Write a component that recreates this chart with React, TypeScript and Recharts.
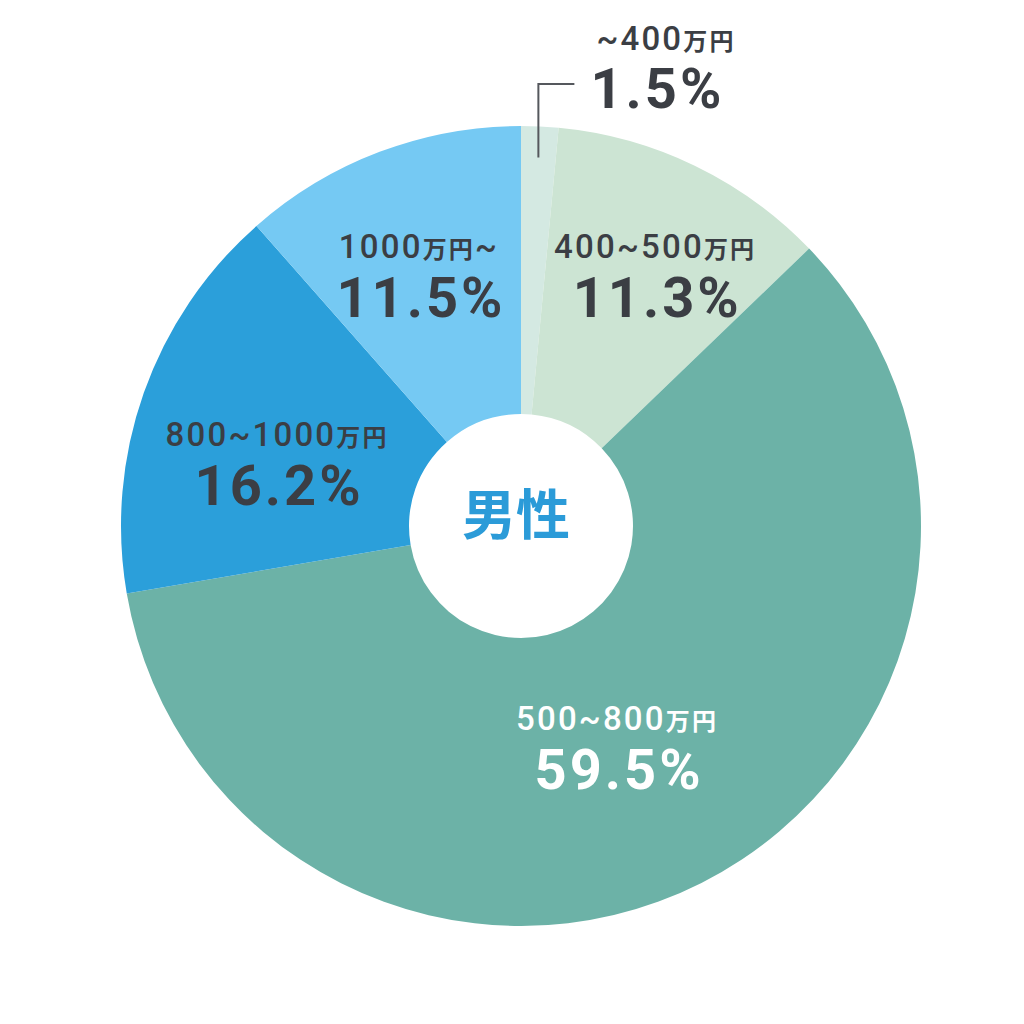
import { PieChart, Pie, Cell, Label } from "recharts";

// annual income bands (men)
const bands = ["~400万円", "400~500万円", "500~800万円", "800~1000万円", "1000万円~"];
const shares = [1.5, 11.3, 59.5, 16.2, 11.5];
const centerTitle = "男性";

const sliceColors = ["#d4e9e2", "#cce4d3", "#6cb2a7", "#2b9fda", "#75c9f3"];
const labelColors = ["#3b3e44", "#3b3e44", "#ffffff", "#3b3e44", "#3b3e44"];

// label placement: radius from centre and angle nudge (deg) from the slice middle
const labelRadius = [0, 273, 253, 249, 259];
const labelTurn = [0, -3.7, -4.5, 7.8, 2.5];

const FONT = "Roboto, 'Noto Sans CJK JP', sans-serif";
const RAD = Math.PI / 180;

const data = bands.map((band, i) => ({ band, share: shares[i] }));

function BandText({ label, x, y, fill, anchor }: any) {
  const parts = label.split(/(万円)/).filter(Boolean);
  return (
    <text x={x} y={y} textAnchor={anchor} fill={fill} fontFamily={FONT} letterSpacing={2.2}>
      {parts.map((p: string, i: number) => (
        <tspan key={i} fontSize={p === "万円" ? 24 : 33} fontWeight={p === "万円" ? 700 : 500}>
          {p}
        </tspan>
      ))}
    </text>
  );
}

function ShareText({ value, x, y, fill, anchor }: any) {
  return (
    <text x={x} y={y} textAnchor={anchor} fill={fill} fontFamily={FONT} fontWeight={700} fontSize={56} letterSpacing={3}>
      {`${value}%`}
    </text>
  );
}

const renderLabel = (props: any) => {
  const { cx, cy, midAngle, index, outerRadius } = props;
  const band = bands[index];
  const share = shares[index];
  if (index === 0) {
    // small slice: leader line out to the top
    const r0 = outerRadius - 31;
    const x0 = cx + r0 * Math.cos(-midAngle * RAD);
    const y0 = cy + r0 * Math.sin(-midAngle * RAD);
    const yTop = cy - 442;
    const xEnd = x0 + 36;
    return (
      <g key="lbl0">
        <polyline points={`${x0},${y0} ${x0},${yTop} ${xEnd},${yTop}`} fill="none" stroke="#55585d" strokeWidth={2} />
        <BandText label={band} x={xEnd + 22} y={yTop - 34} fill={labelColors[0]} anchor="start" />
        <ShareText value={share} x={xEnd + 16} y={yTop + 24} fill={labelColors[0]} anchor="start" />
      </g>
    );
  }
  const a = (midAngle + labelTurn[index]) * RAD;
  const r = labelRadius[index];
  const x = cx + r * Math.cos(-a);
  const y = cy + r * Math.sin(-a);
  return (
    <g key={`lbl${index}`}>
      <BandText label={band} x={x} y={y - 30} fill={labelColors[index]} anchor="middle" />
      <ShareText value={share} x={x + 2} y={y + 29} fill={labelColors[index]} anchor="middle" />
    </g>
  );
};

export default function App() {
  return (
    <div style={{ width: 1016, height: 1016, background: "#ffffff" }}>
      <PieChart width={1016} height={1016}>
        <Pie
          data={data}
          dataKey="share"
          nameKey="band"
          cx={508}
          cy={513}
          innerRadius={112}
          outerRadius={400}
          startAngle={90}
          endAngle={-270}
          stroke="none"
          label={renderLabel}
          labelLine={false}
          isAnimationActive={false}
        >
          {data.map((d, i) => (
            <Cell key={d.band} fill={sliceColors[i]} />
          ))}
          <Label
            value={centerTitle}
            position="center"
            fill="#2b9bd8"
            fontSize={54}
            fontWeight={700}
            fontFamily="'Noto Sans CJK JP', sans-serif"
          />
        </Pie>
      </PieChart>
    </div>
  );
}
